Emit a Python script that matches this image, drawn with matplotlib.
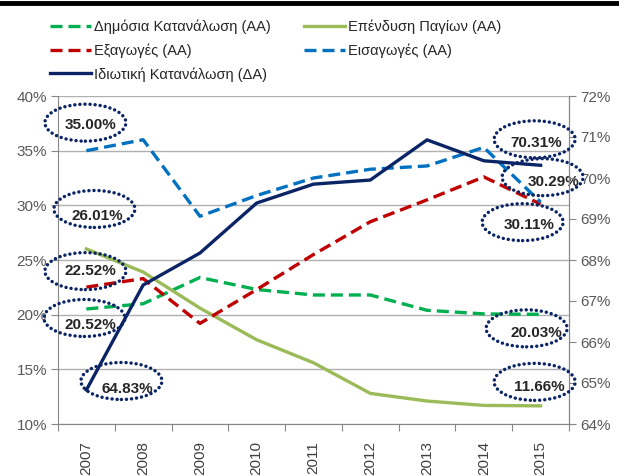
import numpy as np
import matplotlib
matplotlib.use("Agg")
import matplotlib.pyplot as plt
from matplotlib.patches import Ellipse
from matplotlib.lines import Line2D
from matplotlib.transforms import IdentityTransform

plt.rcParams['font.family'] = ['Liberation Sans', 'DejaVu Sans']

years = ['2007', '2008', '2009', '2010', '2011', '2012', '2013', '2014', '2015']

public_cons = [20.52, 21.0, 23.4, 22.3, 21.8, 21.8, 20.4, 20.07, 20.03]
investment = [26.01, 23.9, 20.6, 17.7, 15.6, 12.8, 12.1, 11.7, 11.66]
exports = [22.52, 23.3, 19.2, 22.3, 25.5, 28.5, 30.5, 32.6, 30.11]
imports = [35.00, 36.0, 29.0, 30.9, 32.5, 33.3, 33.6, 35.3, 30.29]
private_cons = [64.83, 67.39, 68.17, 69.39, 69.85, 69.95, 70.93, 70.42, 70.31]

names = ['Δημόσια Κατανάλωση (ΑΑ)', 'Επένδυση Παγίων (ΑΑ)', 'Εξαγωγές (ΑΑ)',
         'Εισαγωγές (ΑΑ)', 'Ιδιωτική Κατανάλωση (ΔΑ)']

fig = plt.figure(figsize=(6.19, 4.76), dpi=100)
ax = fig.add_axes([58 / 619, 1 - 424 / 476, 511 / 619, 328 / 476])
ax2 = ax.twinx()

x = np.arange(len(years))
dash = (3.6, 1.8)
lw = 2.4

l_pub, = ax.plot(x, public_cons, color='#00B050', lw=lw, dashes=dash, label=names[0])
l_inv, = ax.plot(x, investment, color='#9BBB59', lw=lw, label=names[1])
l_exp, = ax.plot(x, exports, color='#C00000', lw=lw, dashes=dash, label=names[2])
l_imp, = ax.plot(x, imports, color='#0070C0', lw=lw, dashes=dash, label=names[3])
l_pri, = ax2.plot(x, private_cons, color='#0A2466', lw=lw, label=names[4])

grey = '#868686'
ax.set_xlim(-0.5, len(years) - 0.5)
ax.set_ylim(10, 40)
ax2.set_ylim(64, 72)
ax.set_yticks(np.arange(10, 41, 5))
ax.set_yticklabels(['%d%%' % v for v in range(10, 41, 5)])
ax2.set_yticks(np.arange(64, 73, 1))
ax2.set_yticklabels(['%d%%' % v for v in range(64, 73)])

ax.set_xticks(np.arange(-0.5, len(years), 1))
ax.set_xticklabels([])
ax.set_xticks(x, minor=True)
ax.set_xticklabels(years, minor=True, rotation=90)
ax.tick_params(axis='x', which='minor', length=0, pad=12, labelsize=11, labelcolor='#404040')
ax.tick_params(axis='x', which='major', length=5, color=grey, direction='out')
ax.tick_params(axis='y', length=5, color=grey, labelsize=11, labelcolor='#595959', pad=3)
ax2.tick_params(axis='y', length=5, color=grey, labelsize=11, labelcolor='#595959', pad=3)

ax.yaxis.grid(True, color='#B0B0B0', lw=1)
ax.set_axisbelow(True)
for a in (ax, ax2):
    a.spines['top'].set_visible(False)
    for s in ('left', 'right', 'bottom'):
        a.spines[s].set_color(grey)
ax2.spines['left'].set_visible(False)
ax2.spines['bottom'].set_visible(False)

# value callouts: (axis, series, index, ellipse offset px, text offset px)
callouts = [
    (ax, imports, 0, (-1, 28), (4, 26)),
    (ax, investment, 0, (8, 40), (11, 33)),
    (ax, exports, 0, (-1, 16), (4, 16)),
    (ax, public_cons, 0, (-2, -9), (4, -16)),
    (ax2, private_cons, 0, (35, 9), (41, 1)),
    (ax2, private_cons, 8, (-6, 26), (-4, 22)),
    (ax, imports, 8, (2, 25), (13, 20)),
    (ax, exports, 8, (-18, -18), (-11, -21)),
    (ax, public_cons, 8, (-14, -14), (-4, -19)),
    (ax, investment, 8, (-6, 24), (-1, 19)),
]
for a, series, i, eo, to in callouts:
    px, py = a.transData.transform((x[i], series[i]))
    e = Ellipse((px + eo[0], py + eo[1]), 81, 37, fill=False, edgecolor='#0A2466',
                lw=2.5, linestyle=(0, (0.01, 1.45)), transform=IdentityTransform())
    e.set_capstyle('round')
    fig.add_artist(e)
    a.annotate('%.2f%%' % series[i], xy=(x[i], series[i]), xytext=to,
               textcoords='offset pixels', ha='center', va='center',
               fontsize=11, fontweight='bold', color='#262626', annotation_clip=False)

fig.legend(handles=[l_pub, l_exp, l_pri, l_inv, l_imp], ncol=2, frameon=False,
           loc='upper left', bbox_to_anchor=(50 / 619, 1 - 20 / 476),
           fontsize=10.5, handlelength=2.8, handletextpad=0.2, labelspacing=0.62,
           columnspacing=2.3, labelcolor='#262626', borderaxespad=0, borderpad=0)

fig.add_artist(Line2D([0, 1], [1 - 3 / 476, 1 - 3 / 476], color='black', lw=3.5))

fig.savefig('out.png', dpi=100)
